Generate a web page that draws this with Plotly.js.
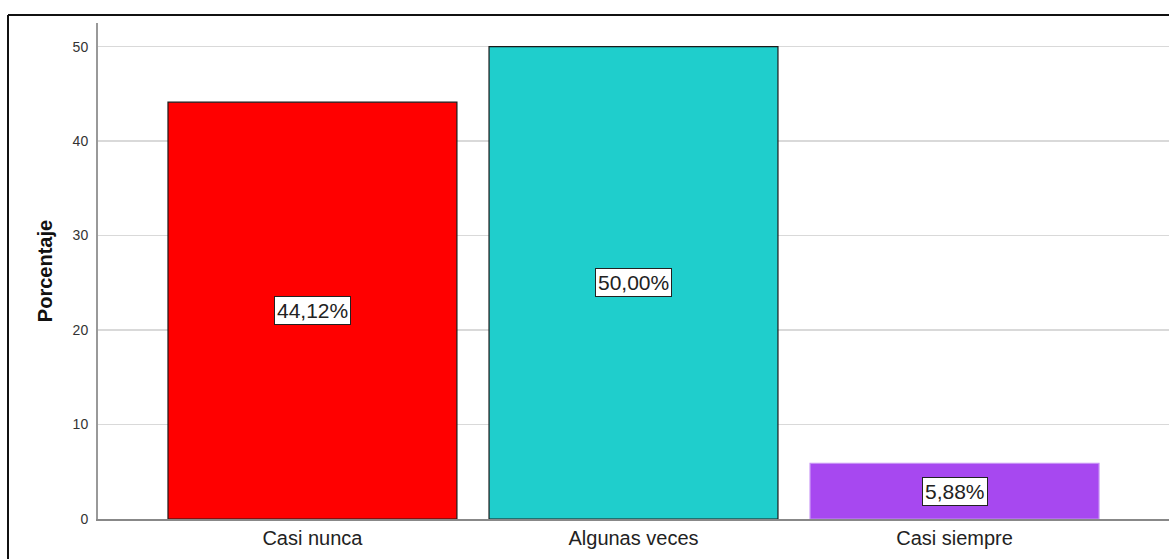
<!DOCTYPE html>
<html>
<head>
<meta charset="utf-8">
<script src="https://cdn.plot.ly/plotly-3.0.1.min.js"></script>
<style>body{margin:0;background:#fff;} #chart{width:1169px;height:559px;}</style>
</head>
<body>
<div id="chart"></div>
<script>
var categories = ["Casi nunca", "Algunas veces", "Casi siempre"];
var values = [44.12, 50.00, 5.88];
var labels = ["44,12%", "50,00%", "5,88%"];
var barColors = ["#ff0000", "#1fcecc", "#a748f0"];
var barLines = ["#1a1a1a", "#1a1a1a", "#c68ff5"];
var yTicks = [0, 10, 20, 30, 40, 50];

var trace = {
  type: "bar",
  x: categories,
  y: values,
  marker: {color: barColors, line: {color: barLines, width: 1.2}},
  hoverinfo: "none"
};

var annotations = categories.map(function(c, i) {
  return {
    x: c, y: values[i] / 2, xref: "x", yref: "y",
    text: labels[i], showarrow: false,
    font: {family: "Liberation Sans, Arial, sans-serif", size: 21, color: "#222"},
    bgcolor: "#ffffff", bordercolor: "#222", borderwidth: 1, borderpad: 2
  };
});

var layout = {
  width: 1169, height: 559,
  margin: {l: 98, r: 0, t: 23, b: 40},
  paper_bgcolor: "#ffffff", plot_bgcolor: "#ffffff",
  bargap: 0.1,
  showlegend: false,
  xaxis: {
    type: "category",
    range: [-0.668, 2.668],
    showline: true, linecolor: "#888", linewidth: 2,
    showgrid: false, zeroline: false, ticks: "",
    tickfont: {family: "Liberation Sans, Arial, sans-serif", size: 20, color: "#222"},
    fixedrange: true
  },
  yaxis: {
    range: [0, 52.5],
    tickvals: yTicks,
    ticktext: yTicks.map(String),
    showline: true, linecolor: "#999", linewidth: 2,
    showgrid: true, gridcolor: "#d9d9d9", gridwidth: 1.5,
    zeroline: false, ticks: "", ticklabelstandoff: 5,
    tickfont: {family: "Liberation Sans, Arial, sans-serif", size: 14, color: "#333"},
    title: {text: "<b>Porcentaje</b>", font: {family: "Liberation Sans, Arial, sans-serif", size: 20, color: "#111"}, standoff: 15},
    fixedrange: true
  },
  annotations: annotations,
  shapes: [
    {type: "line", xref: "paper", yref: "paper", x0: -90/1071, x1: -90/1071, y0: -40/496, y1: 1 + 8/496,
     line: {color: "#111", width: 2}},
    {type: "line", xref: "paper", yref: "paper", x0: -90/1071, x1: 1.01, y0: 1 + 8/496, y1: 1 + 8/496,
     line: {color: "#111", width: 2}}
  ]
};

Plotly.newPlot("chart", [trace], layout, {displayModeBar: false, staticPlot: true});
</script>
</body>
</html>
